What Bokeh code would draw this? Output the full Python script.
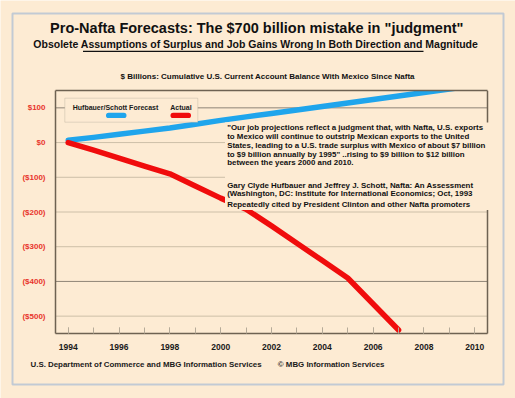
from bokeh.plotting import figure
from bokeh.models import (Range1d, FixedTicker, Label, BoxAnnotation, LinearAxis)
from bokeh.embed import file_html
from bokeh.resources import INLINE

# ---------------- data ----------------
forecast_years = list(range(1994, 2011))
forecast_values = [7, 15, 24, 33, 42, 53, 64, 74, 84, 94, 104, 114, 124, 134, 144, 154, 164]
actual_years = list(range(1994, 2008))
actual_values = [0, -22, -45, -68, -90, -125, -160, -192, -240, -290, -340, -390, -465, -540]

x_label_ticks = [1994, 1996, 1998, 2000, 2002, 2004, 2006, 2008, 2010]
x_minor_ticks = list(range(1994, 2011))
y_tick_values = [100, 0, -100, -200, -300, -400, -500]
y_tick_labels = ["$100", "$0", "($100)", "($200)", "($300)", "($400)", "($500)"]

title_text = 'Pro-Nafta Forecasts: The $700 billion mistake in "judgment"'
subtitle_text = "Obsolete Assumptions of Surplus and Job Gains Wrong In Both Direction and Magnitude"
chart_caption = "$ Billions: Cumulative U.S. Current Account Balance With Mexico Since Nafta"
quote_lines = [
    '"Our job projections reflect a judgment that, with Nafta, U.S. exports',
    "to Mexico will continue to outstrip Mexican exports to the United",
    "States, leading to a U.S. trade surplus with Mexico of about $7 billion",
    'to $9 billion annually by 1995" ..rising to $9 billion to $12 billion',
    "between the years 2000 and 2010.",
]
cite_lines = [
    "Gary Clyde Hufbauer and Jeffrey J. Schott, Nafta: An Assessment",
    "(Washington, DC: Institute for International Economics; Oct, 1993",
]
cite_note = " Repeatedly cited by President Clinton and other Nafta promoters"
source_text = "U.S. Department of Commerce and MBG Information Services"
copyright_text = "\u00a9 MBG Information Services"
legend_names = ["Hufbauer/Schott Forecast", "Actual"]

# ---------------- style / geometry ----------------
BG = "#FDEBD3"
BLUE = "#1FA5EC"
RED = "#F00C0C"
AXIS = "#6E6252"
GRID_LIGHT = "#CDBFA8"
GRID_DARK = "#8F8476"
FONT = "Liberation Sans"

W, H = 515, 398
X0, X1 = 1993.5, 2010.5          # plot area x extent
Y0, Y1 = -550, 150               # plot area y extent
PL, PR, PT, PB = 55, 487, 90, 333  # plot area in canvas pixels
kx = (PR - PL) / (X1 - X0)
ky = (PB - PT) / (Y1 - Y0)
XS = X0 - PL / kx
XE = X1 + (W - PR) / kx
YE = Y1 + PT / ky
YS = Y0 - (H - PB) / ky


def dx(px):
    return XS + px / kx


def dy(py):
    return YE - py / ky


p = figure(width=W, height=H, output_backend="svg", toolbar_location=None,
           x_range=Range1d(XS, XE), y_range=Range1d(YS, YE), min_border=0)
p.min_border_left = 0
p.min_border_right = 0
p.min_border_top = 0
p.min_border_bottom = 0
p.background_fill_color = BG
p.border_fill_color = BG
p.outline_line_color = None
p.xgrid.grid_line_color = None
p.ygrid.grid_line_color = None

# ---- axes (fixed at the plot-area edges) ----
xa = p.xaxis[0]
ya = p.yaxis[0]
xa.fixed_location = Y0
xa.bounds = (X0, X1)
ya.fixed_location = X0
ya.bounds = (Y0, Y1)
xa.ticker = FixedTicker(ticks=x_label_ticks, minor_ticks=x_minor_ticks)
ya.ticker = FixedTicker(ticks=y_tick_values)
ya.major_label_overrides = dict(zip(y_tick_values, y_tick_labels))
for ax in (xa, ya):
    ax.axis_line_color = AXIS
    ax.axis_line_width = 1.5
    ax.major_label_text_font = FONT
    ax.major_label_text_font_style = "bold"
    ax.major_label_standoff = 10
    ax.major_tick_out = 0
    ax.minor_tick_out = 0
xa.major_tick_in = 6
xa.minor_tick_in = 6
xa.major_tick_line_color = "#B5AA98"
xa.minor_tick_line_color = "#B5AA98"
xa.major_label_text_font_size = "8.5px"
xa.major_label_text_color = "#1A1A1A"
ya.major_tick_in = 0
ya.minor_tick_in = 0
ya.major_tick_line_color = None
ya.minor_tick_line_color = None
ya.major_label_text_font_size = "8px"
ya.major_label_text_color = "#E8342B"

top_ax = LinearAxis(fixed_location=Y1, bounds=(X0, X1), ticker=FixedTicker(ticks=[]),
                    axis_line_color=AXIS, axis_line_width=1.5, major_tick_line_color=None,
                    minor_tick_line_color=None, major_label_text_color=None, level="overlay")
right_ax = LinearAxis(fixed_location=X1, bounds=(Y0, Y1), ticker=FixedTicker(ticks=[]),
                      axis_line_color=AXIS, axis_line_width=1.5, major_tick_line_color=None,
                      minor_tick_line_color=None, major_label_text_color=None)
p.add_layout(top_ax, "above")
p.add_layout(right_ax, "right")

# ---- horizontal grid lines at the y ticks ----
grid_colors = [GRID_DARK if v in (100, -400) else GRID_LIGHT for v in y_tick_values]
p.segment(x0=[X0] * len(y_tick_values), x1=[X1] * len(y_tick_values),
          y0=y_tick_values, y1=y_tick_values, line_color=grid_colors, line_width=1)

# ---- data lines ----
p.line(forecast_years, forecast_values, line_color=BLUE, line_width=5.5,
       line_cap="round", line_join="round")
p.line(actual_years, actual_values, line_color=RED, line_width=5.5,
       line_cap="round", line_join="round")

# clip anything drawn above the plot area
p.add_layout(BoxAnnotation(left=X0, right=dx(495), top=dy(79), bottom=Y1,
                           fill_color=BG, fill_alpha=1, line_color=None))

# outer blue frame
p.add_layout(BoxAnnotation(left=dx(12), right=dx(503), top=dy(13), bottom=dy(384),
                           fill_color=None, line_color="#3C7ED6", line_width=2))

# quote box (opaque)
p.add_layout(BoxAnnotation(left=dx(224.5), right=dx(491), top=dy(122), bottom=dy(209.5),
                           fill_color=BG, fill_alpha=1, line_color=None))

# legend
p.add_layout(BoxAnnotation(left=dx(64.3), right=dx(197.3), top=dy(97.7), bottom=dy(121.7),
                           fill_color=BG, fill_alpha=1, line_color="#A39A8C", line_width=1))
p.add_layout(BoxAnnotation(left=dx(105.5), right=dx(126), top=dy(112.3), bottom=dy(117.5),
                           fill_color=BLUE, fill_alpha=1, line_color=None, border_radius=3))
p.add_layout(BoxAnnotation(left=dx(170), right=dx(190.5), top=dy(112.3), bottom=dy(117.5),
                           fill_color=RED, fill_alpha=1, line_color=None, border_radius=3))


def add_text(txt, px, py, size, align="center", color="#111111"):
    p.add_layout(Label(x=dx(px), y=dy(py), text=txt, text_align=align,
                       text_baseline="middle", text_font=FONT, text_font_style="bold",
                       text_font_size=size, text_color=color))


add_text(legend_names[0], 115, 106.7, "7px", color="#1A1A1A")
add_text(legend_names[1], 180.5, 106.7, "7px", color="#1A1A1A")

add_text(title_text, 256.3, 27.7, "14.5px")
add_text(subtitle_text, 255.3, 43.3, "10.5px")
p.add_layout(BoxAnnotation(left=dx(82.5), right=dx(423), top=dy(50.2), bottom=dy(51.4),
                           fill_color="#111111", fill_alpha=1, line_color=None))
add_text(chart_caption, 267.2, 76, "8px")

for i, line in enumerate(quote_lines):
    add_text(line, 226.7, 127.3 + 8.75 * i, "7.9px", align="left")
for i, line in enumerate(cite_lines):
    add_text(line, 226.7, 185 + 8.4 * i, "7.9px", align="left")
add_text(cite_note, 226.7, 204.3, "7.9px", align="left")

add_text(source_text, 30, 364, "7.9px", align="left", color="#1A1A1A")
add_text(copyright_text, 277.3, 364, "7.9px", align="left", color="#1A1A1A")

open("out.html", "w").write(file_html(p, INLINE))
